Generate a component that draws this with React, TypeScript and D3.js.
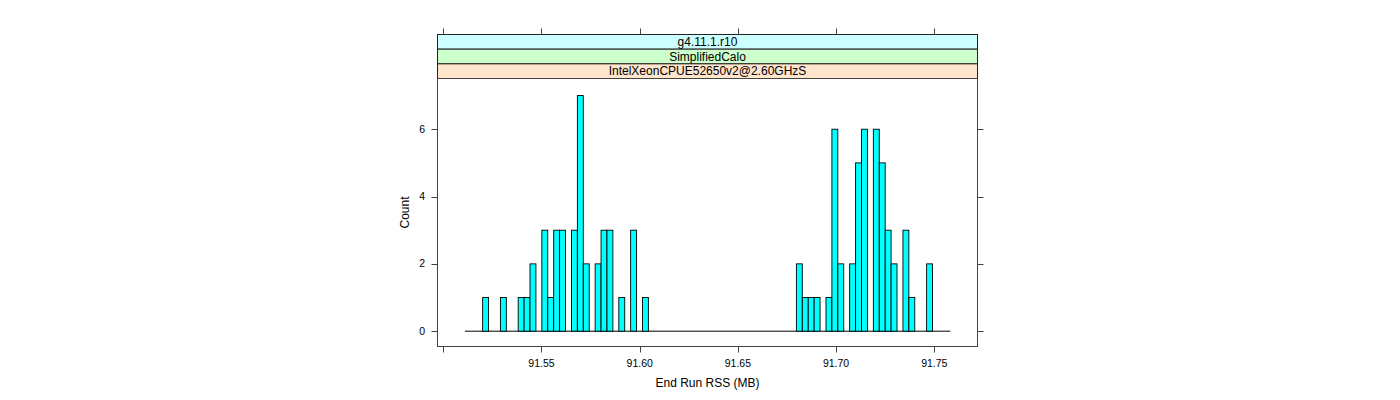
import React from "react";
import * as d3 from "d3";

// ---- data ----
const breakStart = 91.511;
const breakWidth = 0.003014;
// counts per histogram bin (82 bins)
const binCounts = [
  0, 0, 0, 1, 0, 0, 1, 0, 0, 1,
  1, 2, 0, 3, 1, 3, 3, 0, 3, 7,
  2, 0, 2, 3, 3, 0, 1, 0, 3, 0,
  1, 0, 0, 0, 0, 0, 0, 0, 0, 0,
  0, 0, 0, 0, 0, 0, 0, 0, 0, 0,
  0, 0, 0, 0, 0, 0, 2, 1, 1, 1,
  0, 1, 6, 2, 0, 2, 5, 6, 0, 6,
  5, 3, 2, 0, 3, 1, 0, 0, 2, 0,
  0, 0,
];
const xTicks = [91.5, 91.55, 91.6, 91.65, 91.7, 91.75];
const xTickLabels = ["", "91.55", "91.60", "91.65", "91.70", "91.75"];
const yTicks = [0, 2, 4, 6];
const stripLabels = ["g4.11.1.r10", "SimplifiedCalo", "IntelXeonCPUE52650v2@2.60GHzS"];
const stripColors = ["#ccffff", "#ccffcc", "#ffe5cc"];
const xDomain = [91.49705, 91.772];
const yDomain = [-0.455, 7.507];

export default function App() {
  const L = 437.5, R = 977.5, T = 78.5, B = 346.5;
  const stripTop = 34.5;
  const stripH = (T - stripTop) / 3;
  const x = d3.scaleLinear().domain(xDomain).range([L, R]);
  const y = d3.scaleLinear().domain(yDomain).range([B, T]);
  const font = "'Liberation Sans', Arial, Helvetica, sans-serif";
  const axisCol = "#444";

  const bins = binCounts.map((c, i) => ({
    x0: breakStart + i * breakWidth,
    x1: breakStart + (i + 1) * breakWidth,
    c,
  }));
  const lastBreak = bins[bins.length - 1].x1;

  return (
    <svg width={1400} height={400} style={{ position: "absolute", left: 0, top: 0, background: "#fff" }} fontFamily={font}>
      {/* strips */}
      {stripLabels.map((s, i) => (
        <g key={s}>
          <rect x={L} y={stripTop + i * stripH} width={R - L} height={stripH} fill={stripColors[i]} stroke="#222" strokeWidth={1} />
          <text x={(L + R) / 2} y={stripTop + i * stripH + stripH / 2 + 4} textAnchor="middle" fontSize={12} fill="#000">{s}</text>
        </g>
      ))}
      {/* panel frame */}
      <rect x={L} y={T} width={R - L} height={B - T} fill="none" stroke={axisCol} strokeWidth={1} />
      {/* baseline from zero-height bins */}
      <line x1={x(breakStart)} x2={x(lastBreak)} y1={y(0)} y2={y(0)} stroke="#000" strokeWidth={1} />
      {/* bars */}
      {bins.filter((b) => b.c > 0).map((b, i) => (
        <rect key={i} x={x(b.x0)} y={y(b.c)} width={x(b.x1) - x(b.x0)} height={y(0) - y(b.c)}
          fill="#00ffff" stroke="#000" strokeWidth={0.9} />
      ))}
      {/* x ticks bottom & top */}
      {xTicks.map((t, i) => (
        <g key={t}>
          <line x1={Math.round(x(t)) + 0.5} x2={Math.round(x(t)) + 0.5} y1={B} y2={B + 6} stroke={axisCol} />
          <line x1={Math.round(x(t)) + 0.5} x2={Math.round(x(t)) + 0.5} y1={stripTop} y2={stripTop - 6} stroke={axisCol} />
          <text x={x(t)} y={367} textAnchor="middle" fontSize={10.5} fill="#000">{xTickLabels[i]}</text>
        </g>
      ))}
      {/* y ticks left & right */}
      {yTicks.map((t) => (
        <g key={t}>
          <line x1={L} x2={L - 6} y1={Math.round(y(t)) + 0.5} y2={Math.round(y(t)) + 0.5} stroke={axisCol} />
          <line x1={R} x2={R + 6} y1={Math.round(y(t)) + 0.5} y2={Math.round(y(t)) + 0.5} stroke={axisCol} />
          <text x={425} y={y(t) + 3.5} textAnchor="end" fontSize={10.5} fill="#000">{t}</text>
        </g>
      ))}
      {/* axis titles */}
      <text x={(L + R) / 2} y={387} textAnchor="middle" fontSize={12} fill="#000">End Run RSS (MB)</text>
      <text transform={`translate(409, ${(T + B) / 2}) rotate(-90)`} textAnchor="middle" fontSize={12} fill="#000">Count</text>
    </svg>
  );
}
